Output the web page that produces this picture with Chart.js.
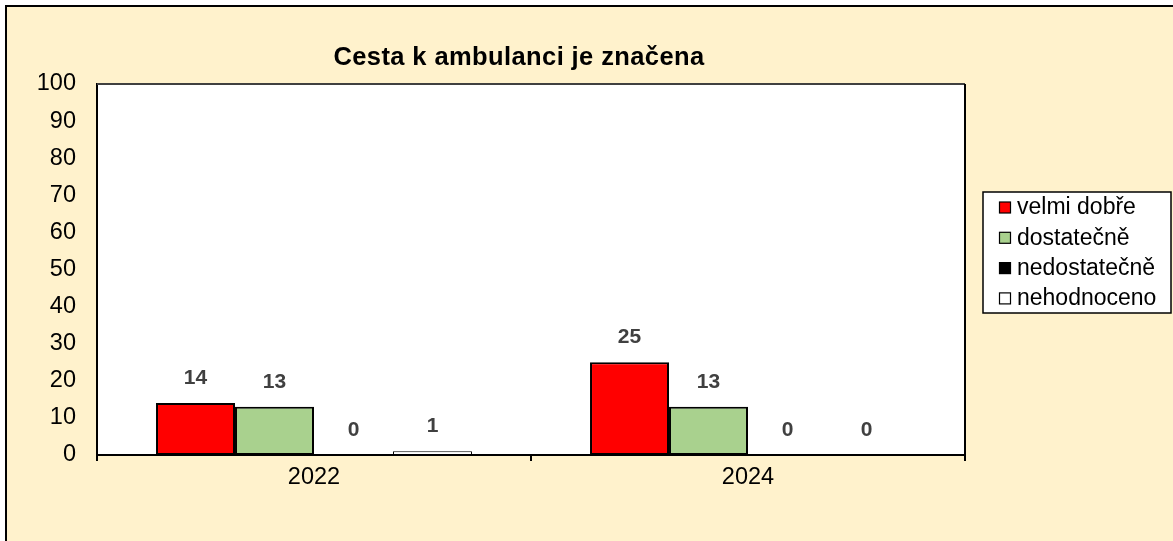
<!DOCTYPE html>
<html>
<head>
<meta charset="utf-8">
<script src="https://cdn.jsdelivr.net/npm/chart.js@4/dist/chart.umd.min.js"></script>
<style>
  html, body { margin: 0; padding: 0; background: #fff; }
  canvas { display: block; }
</style>
</head>
<body>
<canvas id="graf" width="1173" height="541"></canvas>
<script>
// === Data ===
const titulek = "Cesta k ambulanci je značena";
const roky = ["2022", "2024"];
const velmiDobre = [14, 25];
const dostatecne = [13, 13];
const nedostatecne = [0, 0];
const nehodnoceno = [1, 0];
const osaY = [0, 10, 20, 30, 40, 50, 60, 70, 80, 90, 100];

const FONT = "'Liberation Sans', Arial, sans-serif";

// pozadi, ramecek, titulek a bily plot area
const pozadi = {
  id: "pozadi",
  beforeDraw(chart) {
    const ctx = chart.ctx;
    const a = chart.chartArea;
    ctx.save();
    ctx.fillStyle = "#fff";
    ctx.fillRect(0, 0, chart.width, chart.height);
    ctx.fillStyle = "#FFF2CC";
    ctx.fillRect(5, 5, chart.width - 5, chart.height - 5);
    ctx.strokeStyle = "#000";
    ctx.lineWidth = 2;
    ctx.beginPath();
    ctx.moveTo(6, chart.height);
    ctx.lineTo(6, 6);
    ctx.lineTo(chart.width, 6);
    ctx.stroke();
    ctx.fillStyle = "#fff";
    ctx.fillRect(a.left, a.top, a.right - a.left, a.bottom - a.top);

    // titulek
    ctx.font = "bold 25.5px " + FONT;
    ctx.letterSpacing = "0.4px";
    ctx.fillStyle = "#000";
    ctx.textAlign = "center";
    ctx.textBaseline = "middle";
    ctx.fillText(titulek, 519, 58);
    ctx.restore();
  },
  afterDatasetsDraw(chart) {
    const ctx = chart.ctx;
    const a = chart.chartArea;
    ctx.save();
    ctx.lineWidth = 2;
    ctx.strokeStyle = "#404040";
    ctx.beginPath();
    ctx.moveTo(a.left, a.top);
    ctx.lineTo(a.right, a.top);
    ctx.stroke();
    ctx.strokeStyle = "#000";
    ctx.beginPath();
    ctx.moveTo(a.right, a.top);
    ctx.lineTo(a.right, a.bottom);
    ctx.stroke();
    ctx.restore();
  }
};

// hodnoty nad sloupci
const popisky = {
  id: "popisky",
  afterDatasetsDraw(chart) {
    const ctx = chart.ctx;
    ctx.save();
    ctx.font = "bold 21px " + FONT;
    ctx.fillStyle = "#404040";
    ctx.textAlign = "center";
    ctx.textBaseline = "middle";
    chart.data.datasets.forEach((ds, i) => {
      chart.getDatasetMeta(i).data.forEach((bar, j) => {
        ctx.fillText(ds.data[j], bar.x, bar.y - 25);
      });
    });
    ctx.restore();
  }
};

// legenda v ramecku vpravo
const legenda = {
  id: "legenda",
  afterDraw(chart) {
    const ctx = chart.ctx;
    const x = 983, y = 192, w = 188, h = 121;
    ctx.save();
    ctx.fillStyle = "#fff";
    ctx.fillRect(x, y, w, h);
    ctx.strokeStyle = "#000";
    ctx.lineWidth = 1.5;
    ctx.strokeRect(x, y, w, h);
    ctx.font = "23px " + FONT;
    ctx.textBaseline = "middle";
    chart.data.datasets.forEach((ds, i) => {
      const cy = y + 16 + i * 30.3;
      ctx.fillStyle = ds.backgroundColor;
      ctx.fillRect(x + 16.5, cy - 6, 11, 11);
      ctx.strokeStyle = "#000";
      ctx.lineWidth = 1.2;
      ctx.strokeRect(x + 16.5, cy - 6, 11, 11);
      ctx.fillStyle = "#000";
      ctx.fillText(ds.label, x + 34, cy);
    });
    ctx.restore();
  }
};

function sada(label, data, barva, okraj) {
  return {
    label: label,
    data: data,
    backgroundColor: barva,
    borderColor: "#000",
    borderWidth: okraj,
    borderSkipped: false,
    barPercentage: 1,
    categoryPercentage: 0.728
  };
}

new Chart(document.getElementById("graf"), {
  type: "bar",
  data: {
    labels: roky,
    datasets: [
      sada("velmi dobře", velmiDobre, "#FF0000", 2),
      sada("dostatečně", dostatecne, "#A9D18E", 2),
      sada("nedostatečně", nedostatecne, "#000000", 2),
      sada("nehodnoceno", nehodnoceno, "#FFFFFF", 1)
    ]
  },
  options: {
    responsive: false,
    animation: false,
    layout: { padding: { left: 0, right: 208, top: 84, bottom: 0 } },
    plugins: {
      legend: { display: false },
      tooltip: { enabled: false },
      title: { display: false }
    },
    scales: {
      x: {
        grid: { offset: true, drawOnChartArea: false, drawTicks: true, tickLength: 6, color: "#000", lineWidth: 2 },
        border: { color: "#000", width: 2 },
        ticks: { color: "#000", font: { family: FONT, size: 23.5 }, padding: 2 },
        afterFit(s) { s.height = 86; }
      },
      y: {
        min: 0,
        max: 100,
        afterBuildTicks(s) { s.ticks = osaY.map(v => ({ value: v })); },
        grid: { display: false, drawTicks: false },
        border: { color: "#000", width: 2 },
        ticks: { color: "#000", font: { family: FONT, size: 23.5 }, padding: 21 },
        afterFit(s) { s.width = 97; }
      }
    }
  },
  plugins: [pozadi, popisky, legenda]
});
</script>
</body>
</html>
